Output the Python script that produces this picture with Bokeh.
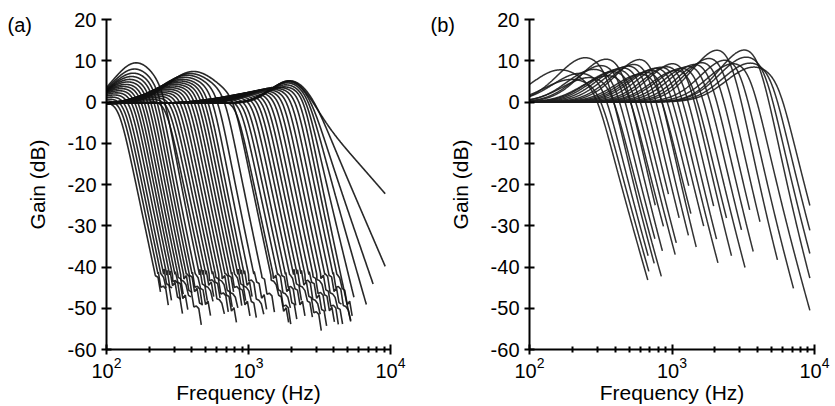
import numpy as np
from bokeh.plotting import figure
from bokeh.layouts import row
from bokeh.models import Range1d, FixedTicker
from bokeh.embed import file_html
from bokeh.resources import INLINE

# ---------------- Panel (a): families of low-pass responses ----------------
# cutoff (Hz), bump centre (Hz), bump height (dB), end gain (dB)
a1_fc = [122, 128, 134, 140, 147, 154, 161, 168, 176, 184, 193, 202, 212, 222, 234, 250]
a1_fp = [108, 111, 114, 117, 120, 123, 127, 131, 135, 139, 143, 147, 151, 155, 158, 162]
a1_pk = [1.0, 1.4, 1.8, 2.3, 2.8, 3.3, 3.8, 4.3, 4.8, 5.3, 5.9, 6.5, 7.2, 8.0, 9.0, 10.5]
a1_end = [-44, -46, -43, -47, -45, -48, -44, -50, -46, -47, -52, -45, -49, -47, -51, -46]

a2_fc = [262, 276, 291, 306, 322, 339, 357, 376, 396, 417, 439, 462, 487, 513, 550, 600, 680, 790]
a2_fp = [215, 222, 230, 238, 246, 255, 264, 274, 284, 295, 306, 318, 330, 343, 356, 370, 390, 410]
a2_pk = [0.8, 1.2, 1.6, 2.0, 2.4, 2.8, 3.2, 3.6, 4.0, 4.4, 4.8, 5.2, 5.6, 6.0, 6.5, 7.0, 7.4, 7.9]
a2_end = [-47, -45, -50, -46, -48, -52, -47, -49, -45, -48, -50, -46, -49, -47, -51, -48, -50, -52]

a3_fc = [820, 880, 940, 1000, 1070, 1140, 1210, 1290, 1370, 1460, 1560, 1660, 1770, 1890, 2020,
         2160, 2300]
a3_fp = [620, 650, 690, 730, 780, 830, 880, 930, 990, 1050, 1120, 1190, 1260, 1340, 1420, 1500, 1600]
a3_pk = [0.6, 0.9, 1.1, 1.3, 1.5, 1.7, 1.9, 2.1, 2.3, 2.5, 2.7, 2.9, 3.1, 3.3, 3.5, 3.7, 3.9]
a3_end = [-50, -48, -52, -49, -51, -47, -50, -53, -49, -51, -48, -52, -50, -53, -49, -51, -50]

a4_fc = [2450, 2550, 2650, 2750, 2940, 2600]
a4_order = [8, 7, 6, 5, 4, 2]
a4_fp = [1800, 1850, 1900, 1950, 2000, 2050]
a4_pk = [4.0, 4.5, 5.0, 5.3, 5.6, 6.7]
a4_end = [-53, -47, -49, -44, -60, -60]

a_floor_ripple = [0.0, 1.2, -0.8, 1.6, -0.4, 0.8, -1.3, 0.5, 1.4, -1.0, 0.3, 1.0]

# ---------------- Panel (b) ----------------
b_fc = [295, 312, 330, 350, 372, 395, 420, 448, 478, 510, 545, 585, 628, 675, 725, 780, 840, 905,
        975, 1050, 1140, 1240, 1350, 1480, 1630, 1800, 2000, 2250, 2550, 2950, 3500, 4000, 4500,
        5000, 5600]
b_fp = [165, 200, 230, 250, 270, 290, 330, 360, 370, 400, 430, 470, 520, 580, 640, 640, 700, 760,
        820, 900, 1000, 1100, 1150, 1250, 1400, 1550, 1750, 1950, 2200, 2500, 2800, 3400, 3400,
        3600, 3800]
b_pk = [7.8, 5.5, 7.0, 10.8, 6.0, 8.0, 9.0, 10.6, 6.5, 7.5, 8.0, 8.5, 9.0, 9.5, 10.8, 7.0, 7.5, 8.0,
        8.5, 8.8, 9.0, 9.8, 8.0, 8.5, 9.0, 9.5, 10.0, 11.0, 13.0, 10.5, 9.5, 13.0, 11.0, 9.5, 8.5]
b_end = [-43, -41, -37, -39, -42, -33, -36, -25, -30, -37, -34, -22, -28, -32, -35, -27, -20, -30,
         -39, -33, -25, -37, -28, -40, -31, -36, -26, -29, -38, -45, -60, -60, -60, -60, -60]

x_ticks = [100, 1000, 10000]
x_minor = [200, 300, 400, 500, 600, 700, 800, 900, 2000, 3000, 4000, 5000, 6000, 7000, 8000, 9000]
y_ticks = [-60, -50, -40, -30, -20, -10, 0, 10, 20]
y_tick_text = ["-60", "-50", "-40", "-30", "-20", "-10", "0", "10", "20"]

FONT = "Liberation Sans"


def response(fc, fp, pk, base, w, n, end, fmax, knee=None, ripple=None, shift=0):
    x = np.arange(2.0, np.log10(fmax) + 1e-9, 1.0 / 400)
    f = 10 ** x
    g = base + pk * np.exp(-((x - np.log10(fp)) / w) ** 2) - 10 * np.log10(1 + (f / fc) ** (2 * n))
    if knee is None:
        idx = np.where(g <= end)[0]
        if len(idx):
            k = idx[0] + 1
            x, g = x[:k], g[:k]
        return 10 ** x, g
    idx = np.where(g < knee)[0]
    if not len(idx):
        return 10 ** x, g
    k0 = idx[0]
    xs = x[k0::7]
    gs = knee + (g[k0::7] - knee) * 0.55
    gs = gs + np.array([ripple[(j + shift) % len(ripple)] for j in range(len(gs))])
    cut = np.where(gs <= end)[0]
    if len(cut):
        xs, gs = xs[:cut[0] + 1], gs[:cut[0] + 1]
    return 10 ** np.concatenate([x[:k0], xs]), np.concatenate([g[:k0], gs])


def make_fig(width, left, right, top, bottom, tag, tag_offset):
    p = figure(width=width, height=406, x_axis_type="log",
               x_range=Range1d(100, 10000), y_range=Range1d(-60, 20),
               output_backend="svg", toolbar_location=None,
               min_border_left=left, min_border_right=right,
               min_border_top=top, min_border_bottom=bottom,
               title=tag, title_location="above")
    p.title.text_font = FONT
    p.title.text_font_size = "20px"
    p.title.text_font_style = "normal"
    p.title.text_color = "black"
    p.title.align = "left"
    p.title.offset = tag_offset
    p.title.standoff = -33
    p.title.vertical_align = "bottom"
    p.outline_line_color = None
    p.grid.visible = False
    p.background_fill_color = "white"
    p.border_fill_color = "white"
    xa, ya = p.xaxis[0], p.yaxis[0]
    xa.ticker = FixedTicker(ticks=x_ticks, minor_ticks=x_minor)
    ya.ticker = FixedTicker(ticks=y_ticks)
    ya.major_label_overrides = dict(zip(y_ticks, y_tick_text))
    for ax in (xa, ya):
        ax.axis_line_width = 2
        ax.axis_line_color = "black"
        ax.major_tick_line_width = 2
        ax.major_tick_line_color = "black"
        ax.major_label_text_font = FONT
        ax.major_label_text_font_size = "20px"
        ax.major_label_text_color = "black"
        ax.axis_label_text_font = FONT
        ax.axis_label_text_font_size = "21px"
        ax.axis_label_text_font_style = "normal"
        ax.axis_label_text_color = "black"
    xa.major_tick_in = 5
    xa.major_tick_out = 5
    xa.minor_tick_in = 3
    xa.minor_tick_out = 3
    xa.minor_tick_line_width = 2
    xa.minor_tick_line_color = "black"
    xa.major_label_standoff = 2
    xa.axis_label_standoff = 0
    xa.axis_label = "Frequency (Hz)"
    ya.major_tick_in = 5
    ya.major_tick_out = 5
    ya.minor_tick_line_color = None
    ya.major_label_standoff = 5
    ya.axis_label_standoff = 16
    ya.axis_label = "Gain (dB)"
    return p


# ---- panel (a)
pa = make_fig(415, 106, 25, 19, 53, "(a)", -99)
groups_a = [
    (a1_fc, a1_fp, a1_pk, a1_end, -1.0, 0.23),
    (a2_fc, a2_fp, a2_pk, a2_end, -0.5, 0.26),
    (a3_fc, a3_fp, a3_pk, a3_end, -0.3, 0.25),
]
xs_a, ys_a = [], []
s = 0
for fcs, fps, pks, ends, base, w in groups_a:
    for fc, fp, pk, end in zip(fcs, fps, pks, ends):
        fx, gy = response(fc, fp, pk, base, w, 8, end, 9200, knee=-42, ripple=a_floor_ripple, shift=s)
        xs_a.append(fx)
        ys_a.append(gy)
        s += 5
for fc, n, fp, pk, end in zip(a4_fc, a4_order, a4_fp, a4_pk, a4_end):
    fx, gy = response(fc, fp, pk, -0.3, 0.2, n, end, 9200)
    xs_a.append(fx)
    ys_a.append(gy)
pa.multi_line(xs_a, ys_a, line_color="#111111", line_width=1.6, line_alpha=0.9)

# ---- panel (b)
pb = make_fig(420, 114, 21, 18, 52, "(b)", -99)
xs_b, ys_b = [], []
for fc, fp, pk, end in zip(b_fc, b_fp, b_pk, b_end):
    fx, gy = response(fc, fp, pk, 0.0, 0.28, 6, end, 9300)
    xs_b.append(fx)
    ys_b.append(gy)
pb.multi_line(xs_b, ys_b, line_color="#1c1c1c", line_width=1.5, line_alpha=0.9)

layout = row(pa, pb)
open("out.html", "w").write(file_html(layout, INLINE))
